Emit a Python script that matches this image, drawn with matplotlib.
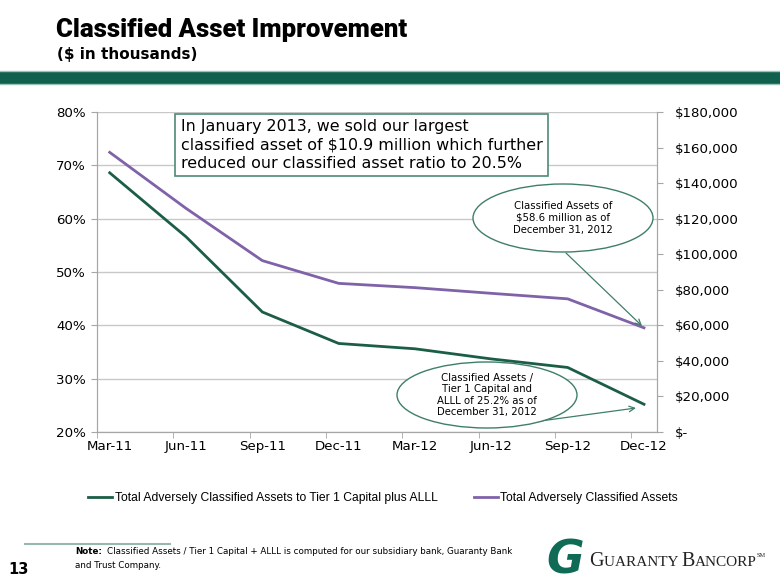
import matplotlib
matplotlib.use("Agg")
import matplotlib.pyplot as plt
from matplotlib.patches import Ellipse, Rectangle
from matplotlib.ticker import FuncFormatter, MultipleLocator, FixedLocator

# data
quarters = ["Mar-11", "Jun-11", "Sep-11", "Dec-11", "Mar-12", "Jun-12", "Sep-12", "Dec-12"]
ratio_pct = [68.6, 56.6, 42.5, 36.6, 35.6, 33.7, 32.1, 25.2]
classified_assets = [157300, 125800, 96400, 83600, 81200, 78000, 74900, 58600]

legend_labels = ["Total Adversely Classified Assets to Tier 1 Capital plus ALLL",
                 "Total Adversely Classified Assets"]

GREEN = "#1b5e45"
PURPLE = "#7f62a8"
GRID = "#c8c8c8"
SPINE = "#a6a6a6"
NOTE_GREEN = "#3f7f69"

W, H = 780, 585
fig = plt.figure(figsize=(W / 100, H / 100), dpi=100)
plt.rcParams["font.family"] = ["DejaVu Sans"]
renderer = fig.canvas.get_renderer()


def fx(px):
    return px / W


def fy(py):
    return 1 - py / H


# header
fig.text(fx(56), fy(30), "Classified Asset Improvement", fontsize=18.5, fontweight=900,
         family=["Roboto", "DejaVu Sans"], va="center", ha="left")
fig.text(fx(57), fy(55), "($ in thousands)", fontsize=11, fontweight="bold",
         va="center", ha="left")
fig.patches.append(Rectangle((0, fy(84)), 1, fy(71) - fy(84), transform=fig.transFigure,
                             facecolor="#11604e", edgecolor="none"))
fig.lines.append(plt.Line2D([0, 1], [fy(71), fy(71)], transform=fig.transFigure, color="#9cc4b6", lw=1))
fig.lines.append(plt.Line2D([0, 1], [fy(84.5), fy(84.5)], transform=fig.transFigure, color="#9cc4b6", lw=1))

# axes
ax = fig.add_axes([fx(97), fy(432), fx(656.7) - fx(97), fy(112) - fy(432)])
ax2 = ax.twinx()

x = [i * 3 for i in range(len(quarters))]
l1, = ax.plot(x, [v / 100 for v in ratio_pct], color=GREEN, lw=2.0, zorder=3)
l2, = ax2.plot(x, classified_assets, color=PURPLE, lw=2.0, zorder=3)

ax.set_xlim(-0.5, 21.5)
ax.set_ylim(0.2, 0.8)
ax2.set_ylim(0, 180000)
ax.yaxis.set_major_locator(MultipleLocator(0.1))
ax.yaxis.set_major_formatter(FuncFormatter(lambda v, p: f"{v * 100:.0f}%"))
ax2.yaxis.set_major_locator(MultipleLocator(20000))
ax2.yaxis.set_major_formatter(FuncFormatter(lambda v, p: "$-" if v == 0 else f"${v:,.0f}"))

ax.set_xticks(x)
ax.set_xticklabels(quarters)
ax.xaxis.set_minor_locator(FixedLocator([i * 3 - 0.5 for i in range(len(quarters))]))
ax.tick_params(axis="x", which="major", length=0, pad=6, labelsize=9.6, colors="#000000")
ax.tick_params(axis="x", which="minor", length=4, color=SPINE)
ax.tick_params(axis="y", length=4, color=SPINE, labelsize=9.6, pad=4)
ax2.tick_params(axis="y", length=4, color=SPINE, labelsize=9.6, pad=9)

ax.grid(axis="y", color=GRID, lw=1)
ax.set_axisbelow(True)
for a in (ax, ax2):
    a.spines["top"].set_visible(False)
    for s in ("left", "right", "bottom"):
        a.spines[s].set_color(SPINE)
ax2.set_zorder(ax.get_zorder() + 1)
ax2.patch.set_visible(False)

# text box
fig.text(fx(181), fy(145),
         "In January 2013, we sold our largest\nclassified asset of $10.9 million which further\n"
         "reduced our classified asset ratio to 20.5%",
         fontsize=11.4, va="center", ha="left", linespacing=1.28, zorder=10,
         bbox=dict(boxstyle="square,pad=0.35", facecolor="white", edgecolor="#4e8a78", lw=1.2))

# ellipse callouts
e1 = Ellipse((fx(563), fy(218)), fx(180), 68 / H, transform=fig.transFigure,
             facecolor="white", edgecolor=NOTE_GREEN, lw=1.0, zorder=10)
e2 = Ellipse((fx(487), fy(395)), fx(180), 66 / H, transform=fig.transFigure,
             facecolor="white", edgecolor=NOTE_GREEN, lw=1.0, zorder=10)
fig.patches.extend([e1, e2])
fig.text(fx(563), fy(218), "Classified Assets of\n$58.6 million as of\nDecember 31, 2012",
         fontsize=7.3, ha="center", va="center", linespacing=1.25, zorder=11)
fig.text(fx(487), fy(395), "Classified Assets /\nTier 1 Capital and\nALLL of 25.2% as of\nDecember 31, 2012",
         fontsize=7.3, ha="center", va="center", linespacing=1.2, zorder=11)

ax2.annotate("", xy=(x[-1], classified_assets[-1]), xycoords="data",
             xytext=(fx(566), fy(253)), textcoords="figure fraction",
             arrowprops=dict(arrowstyle="->", color=NOTE_GREEN, lw=0.9, shrinkA=0, shrinkB=2))
ax2.annotate("", xy=(fx(636), fy(408)), xycoords="figure fraction",
             xytext=(fx(533), fy(422)), textcoords="figure fraction",
             arrowprops=dict(arrowstyle="->", color=NOTE_GREEN, lw=0.9, shrinkA=0, shrinkB=0))

# legend
fig.legend([l1, l2], legend_labels, loc="center", bbox_to_anchor=(fx(383), fy(498)), ncol=2,
           frameon=False, handlelength=2.0, handletextpad=0.2, columnspacing=3.0,
           prop={"family": ["Liberation Sans", "DejaVu Sans"], "size": 8.7})

# footer
fig.lines.append(plt.Line2D([fx(25), fx(170)], [fy(544), fy(544)], transform=fig.transFigure,
                            color="#96b8ad", lw=1.5))
fig.text(fx(8), fy(569), "13", fontsize=10.5, fontweight="bold", va="center", ha="left")
note = fig.text(fx(75), fy(552), "Note:", fontsize=6.3, fontweight="bold", va="center", ha="left")
note_w = note.get_window_extent(renderer).width
fig.text(fx(75 + note_w + 5), fy(552),
         "Classified Assets / Tier 1 Capital + ALLL is computed for our subsidiary bank, Guaranty Bank",
         fontsize=6.3, va="center", ha="left")
fig.text(fx(75), fy(566), "and Trust Company.", fontsize=6.3, va="center", ha="left")

# logo
fig.text(fx(546), fy(561), "G", fontsize=33, fontweight="bold", color="#0f6b55",
         va="center", ha="left", fontstyle="italic")
xpos = 589
for piece, size in [("G", 14.5), ("UARANTY ", 11), ("B", 14.5), ("ANCORP", 11), ("SM", 4.5)]:
    t = fig.text(fx(xpos), fy(557 if piece == "SM" else 566), piece, fontsize=size,
                 family=["Liberation Serif", "DejaVu Serif"], color="#222222",
                 va="baseline", ha="left")
    xpos += t.get_window_extent(renderer).width

fig.savefig("out.png", dpi=100)
